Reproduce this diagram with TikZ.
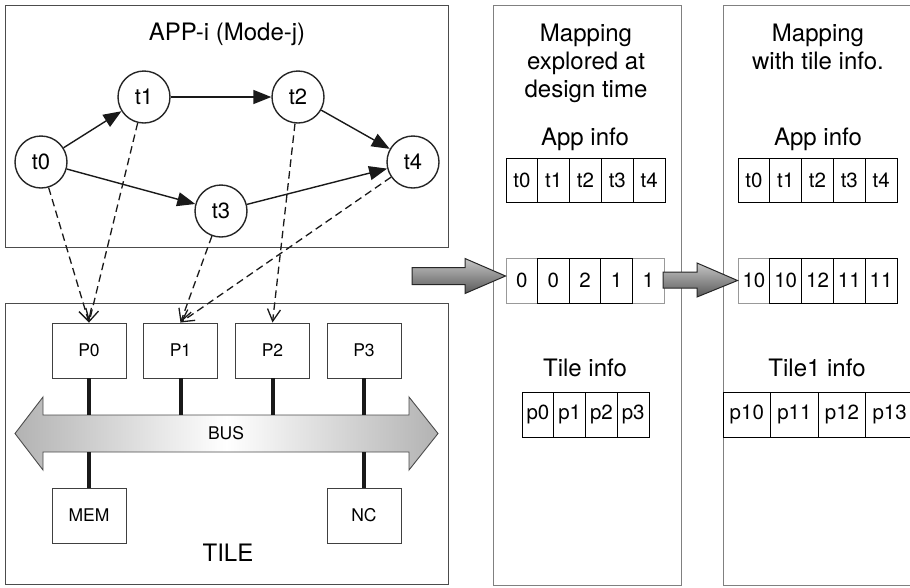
\documentclass[tikz,border=0pt]{standalone}
\usepackage{fontspec}
\setmainfont{TeX Gyre Heros}
\usetikzlibrary{arrows.meta}
\newcommand\fsz[2]{\fontsize{#1}{#2}\selectfont}
\begin{document}
\begin{tikzpicture}[x=1pt,y=-1pt,
  txt/.style={text=black},
  task/.style={circle, draw=black!85, line width=1.4pt, minimum size=52pt, inner sep=0pt, txt, font=\fsz{22}{26}},
  pbox/.style={rectangle, draw=black!75, line width=0.9pt, minimum width=74pt, minimum height=55pt, inner sep=0pt, txt, font=\fsz{17.5}{21}},
  frame/.style={rectangle, draw=black!70, line width=0.9pt, inner sep=0pt},
  panel/.style={draw=black!50, line width=0.9pt},
  flow/.style={-{Triangle[length=18pt,width=14pt]}, line width=1.4pt, black!90},
  mapto/.style={dash pattern=on 7.5pt off 4.5pt, line width=1.3pt, black!90, -{Straight Barb[length=12pt,width=13pt]}},
  busline/.style={line width=4pt, black!90},
  cell/.style={rectangle, draw=black, line width=0.9pt, inner sep=0pt, txt, font=\fsz{20.5}{24}},
  heading/.style={inner sep=0pt, align=center, txt, font=\fsz{24}{28}},
  blockarrow/.style={draw=black!85, line width=1pt, top color=gray!45, bottom color=black!65}
]
\useasboundingbox (0,0) rectangle (910,587);
\clip (0,0) rectangle (910,587);

% ---------- application task graph ----------
\node[frame, minimum width=443pt, minimum height=242pt] (app) at (226.5,126) {};
\node[txt, font=\fsz{24}{28}, inner sep=0pt] (apptitle) at (227,34.5) {APP-i (Mode-j)};
\node[task] (t0) at (41,162) {t0};
\node[task] (t1) at (144,97) {t1};
\node[task] (t2) at (298,97) {t2};
\node[task] (t3) at (221,211) {t3};
\node[task] (t4) at (413,162) {t4};
\draw[flow] (t0) -- (t1);
\draw[flow] (t1) -- (t2);
\draw[flow] (t2) -- (t4);
\draw[flow] (t0) -- (t3);
\draw[flow] (t3) -- (t4);

% ---------- tile with processors on a bus ----------
\node[frame, minimum width=443pt, minimum height=281pt] (tile) at (226.5,444) {};
\node[pbox] (P0) at (89,350.5) {P0};
\node[pbox] (P1) at (180.5,350.5) {P1};
\node[pbox] (P2) at (272.5,350.5) {P2};
\node[pbox] (P3) at (364,350.5) {P3};
\node[pbox] (MEM) at (89,515.5) {MEM};
\node[pbox] (NC) at (364,515.5) {NC};
\node[txt, font=\fsz{24}{28}, inner sep=0pt] (tilelabel) at (228,552.5) {TILE};

\path[draw=black!70, line width=0.9pt, left color=gray!60, right color=gray!60, middle color=white]
  (15,433.5) -- (43,397) -- (43,415) -- (409,415) -- (409,397) -- (438,433.5)
  -- (409,470) -- (409,452) -- (43,452) -- (43,470) -- cycle;
\coordinate (bustop) at (226,415);
\coordinate (busbot) at (226,452);
\node[txt, font=\fsz{17.5}{21}, inner sep=0pt] (bus) at (226,433.5) {BUS};
\draw[busline] (P0.south) -- (P0.south |- bustop);
\draw[busline] (P1.south) -- (P1.south |- bustop);
\draw[busline] (P2.south) -- (P2.south |- bustop);
\draw[busline] (P3.south) -- (P3.south |- bustop);
\draw[busline] (MEM.north) -- (MEM.north |- busbot);
\draw[busline] (NC.north) -- (NC.north |- busbot);

% ---------- task to processor mapping ----------
\draw[mapto] (t0) -- (P0.north);
\draw[mapto] (t1) -- (P0.north);
\draw[mapto] (t2) -- (P2.north);
\draw[mapto] (t3) -- (P1.north);
\draw[mapto] (t4) -- (P1.north);

% ---------- design-time mapping panel ----------
\draw[panel] (493,5) rectangle (681,585);
\node[heading, anchor=north] (dthead) at (586,24) {Mapping\\explored at\\design time};
\node[heading, anchor=north] (dtapp) at (585,128) {App info};
\foreach \v [count=\i from 0] in {t0,t1,t2,t3,t4}
  \node[cell, minimum width=31.8pt, minimum height=44pt] (ma\i) at (506+15.9+\i*31.8,180) {\v};
\foreach \i/\v/\c in {0/0/black!40, 4/1/black!40, 1/0/black, 2/2/black, 3/1/black}
  \node[cell, draw=\c, minimum width=31.6pt, minimum height=45pt] (mb\i) at (506+15.8+\i*31.6,280.5) {\v};
\node[heading, anchor=north] (dttile) at (585,359) {Tile info};
\foreach \v [count=\i from 0] in {p0,p1,p2,p3}
  \node[cell, minimum width=31.75pt, minimum height=45pt] (mc\i) at (522+15.9+\i*31.75,414.5) {\v};

% ---------- mapping with tile information ----------
\draw[panel] (723,5) -- (940,5);
\draw[panel] (723,5) -- (723,585) -- (940,585);
\node[heading, anchor=north] (rthead) at (818,24) {Mapping\\with tile info.};
\node[heading, anchor=north] (rtapp) at (818,128) {App info};
\foreach \v [count=\i from 0] in {t0,t1,t2,t3,t4}
  \node[cell, minimum width=31.8pt, minimum height=44pt] (me\i) at (738+15.9+\i*31.8,180) {\v};
\foreach \i/\v/\c in {0/10/black!40, 1/10/black, 2/12/black, 3/11/black, 4/11/black}
  \node[cell, draw=\c, minimum width=31.8pt, minimum height=45pt] (mf\i) at (738+15.9+\i*31.8,280.5) {\v};
\node[heading, anchor=north] (rttile) at (817,359) {Tile1 info};
\foreach \v [count=\i from 0] in {p10,p11,p12,p13}
  \node[cell, minimum width=47.6pt, minimum height=45pt] (mg\i) at (723+23.8+\i*47.6,414.5) {\v};

% ---------- block arrows between stages ----------
\path[blockarrow] (412,267.5) -- (465,267.5) -- (465,258.5) -- (mb0.west |- 0,276)
  -- (465,293.5) -- (465,284.5) -- (412,284.5) -- cycle;
\path[blockarrow] (663,272) -- (697,272) -- (697,263) -- (mf0.west)
  -- (697,297) -- (697,288) -- (663,288) -- cycle;
\end{tikzpicture}
\end{document}
